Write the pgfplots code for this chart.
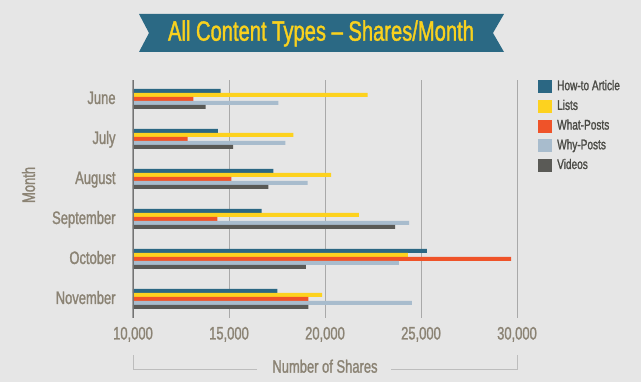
\documentclass[border=0pt]{standalone}
\usepackage{fontspec}
\setmainfont[FakeStretch=0.72, FakeBold=1.3]{Liberation Sans}
\usepackage{pgfplots}
\pgfplotsset{compat=1.18}
\definecolor{bg}{HTML}{E6E6E6}
\definecolor{howto}{HTML}{2B6783}
\definecolor{lists}{HTML}{FDD21F}
\definecolor{what}{HTML}{EF5329}
\definecolor{why}{HTML}{A8BCCD}
\definecolor{videos}{HTML}{5A5A56}
\definecolor{lab}{HTML}{8B8374}
\definecolor{legtext}{HTML}{4A4A45}
\definecolor{gridc}{HTML}{A9A9A9}
\definecolor{banner}{HTML}{2B6984}
\definecolor{titletext}{HTML}{F9D11E}
\definecolor{bracket}{HTML}{BDBDBD}
\begin{document}
\begin{tikzpicture}[x=1pt,y=1pt]
\fill[bg] (0,0) rectangle (641,382);
\useasboundingbox (0,0) rectangle (641,382);
\fill[banner] (139,368) -- (504,368) -- (493,349) -- (504,330) -- (139,330) -- (149,349) -- cycle;
\node[text=titletext, font=\fontsize{28}{28}\selectfont, anchor=base, inner sep=0pt] at (321,341.3) {All Content Types – Shares/Month};
\begin{axis}[
  at={(133pt,64pt)}, anchor=south west, scale only axis,
  width=384pt, height=238pt,
  xbar, bar width=4pt,
  xmin=10000, xmax=30000, ymin=-0.475, ymax=5.475,
  xtick={10000,15000,20000,25000,30000},
  ytick={0,1,2,3,4,5},
  yticklabels={November,October,September,August,July,June},
  axis line style={draw=none}, tick style={draw=none},
  xmajorgrids, major grid style={gridc, line width=1pt},
  /pgf/number format/assume math mode=true,
  /pgf/number format/1000 sep={,},
  scaled x ticks=false,
  ticklabel style={font=\fontsize{18}{18}\selectfont, text=lab, inner sep=0pt},
  xticklabel style={anchor=base, yshift=-21.5pt},
  yticklabel style={anchor=base east, xshift=-13pt, yshift=-5pt},
  xlabel={Number of Shares}, ylabel={Month},
  label style={font=\fontsize{18}{18}\selectfont, text=lab, inner sep=0pt},
  xlabel style={at={(rel axis cs:0.5,-0.2298)}, anchor=base},
  ylabel style={at={(rel axis cs:-0.272,0.559)}, anchor=center, rotate=0},
  legend style={at={(rel axis cs:1.0547,1)}, anchor=north west, draw=none, fill=none,
    inner sep=0pt, column sep=5pt, row sep=6.7pt,
    font=\fontsize{14}{14}\selectfont, text=legtext,
    nodes={inner sep=0pt, text height=10pt, text depth=3pt}},
  legend cell align=left,
  legend image code/.code={\fill[#1] (0pt,-6.5pt) rectangle (14pt,6.5pt);},
]
\addplot[fill=howto, draw=none, bar shift=8pt] coordinates {(14570,5) (14420,4) (17310,3) (16700,2) (25300,1) (17520,0)};
\addplot[fill=lists, draw=none, bar shift=4pt] coordinates {(22220,5) (18350,4) (20320,3) (21770,2) (24320,1) (19850,0)};
\addplot[fill=what, draw=none, bar shift=0pt] coordinates {(13150,5) (12840,4) (15130,3) (14400,2) (29700,1) (19140,0)};
\addplot[fill=why, draw=none, bar shift=-4pt] coordinates {(17570,5) (17940,4) (19100,3) (24380,2) (23850,1) (24530,0)};
\addplot[fill=videos, draw=none, bar shift=-8pt] coordinates {(13780,5) (15220,4) (17050,3) (23650,2) (19000,1) (19140,0)};
\legend{How-to Article, Lists, What-Posts, Why-Posts, Videos}
\draw[color=black!55, line width=1.2pt] (axis cs:10000,-0.475) -- (axis cs:10000,5.475);
\end{axis}
\draw[bracket, line width=1pt] (257,12) -- (133,12) -- (133,27);
\draw[bracket, line width=1pt] (391,12) -- (517,12) -- (517,27);
\end{tikzpicture}
\end{document}
